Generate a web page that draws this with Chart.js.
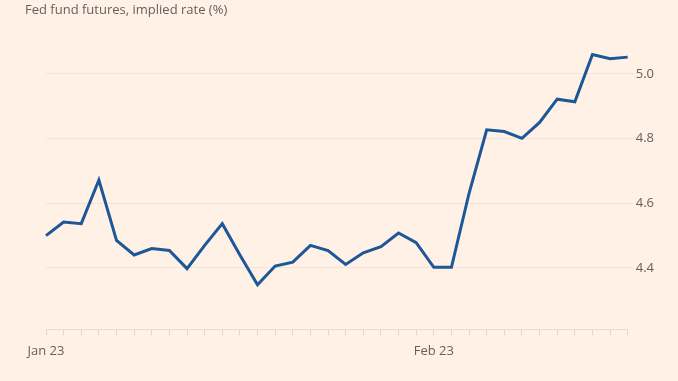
<!DOCTYPE html>
<html>
<head>
<meta charset="utf-8">
<script src="https://cdn.jsdelivr.net/npm/chart.js@4"></script>
<style>
  html, body { margin: 0; padding: 0; background: #fff1e5; }
  #wrap { width: 678px; height: 381px; position: relative; }
</style>
</head>
<body>
<div id="wrap"><canvas id="rateChart"></canvas></div>
<script>
// business days, Jan 23 to Mar 10
const dates = [
  "Jan 23", "Jan 24", "Jan 25", "Jan 26", "Jan 27", "Jan 30", "Jan 31",
  "Feb 1", "Feb 2", "Feb 3", "Feb 6", "Feb 7", "Feb 8", "Feb 9", "Feb 10",
  "Feb 13", "Feb 14", "Feb 15", "Feb 16", "Feb 17", "Feb 21", "Feb 22",
  "Feb 23", "Feb 24", "Feb 27", "Feb 28", "Mar 1", "Mar 2", "Mar 3",
  "Mar 6", "Mar 7", "Mar 8", "Mar 9", "Mar 10"
];
const impliedRate = [
  4.50, 4.542, 4.537, 4.672, 4.485, 4.44, 4.46, 4.454, 4.398, 4.47,
  4.537, 4.44, 4.348, 4.406, 4.418, 4.47, 4.454, 4.411, 4.447, 4.466,
  4.508, 4.478, 4.402, 4.402, 4.631, 4.827, 4.822, 4.801, 4.85, 4.922,
  4.914, 5.06, 5.047, 5.052
];
const xTickLabels = ["Jan 23", "Feb 23"];
const yTicks = [4.4, 4.6, 4.8, 5.0];

const textGrey = "#66605c";

const ctx = document.getElementById("rateChart").getContext("2d");
new Chart(ctx, {
  type: "line",
  data: {
    labels: dates,
    datasets: [{
      label: "Implied rate",
      data: impliedRate,
      xAxisID: "x",
      yAxisID: "y",
      borderColor: "#1c5797",
      borderWidth: 3,
      pointRadius: 0,
      tension: 0,
      fill: false,
    }],
  },
  options: {
    responsive: true,
    maintainAspectRatio: false,
    animation: false,
    layout: { padding: { left: 25, right: 22, top: 2, bottom: 14 } },
    plugins: {
      legend: { display: false },
      tooltip: { enabled: false },
      title: {
        display: true,
        text: "Fed fund futures, implied rate (%)",
        align: "start",
        color: textGrey,
        font: { family: "'Open Sans', sans-serif", size: 13, weight: "normal" },
        padding: { top: 0, bottom: 24 },
      },
    },
    scales: {
      x: {
        offset: false,
        grid: {
          drawOnChartArea: false,
          color: "#e3d8ce",
          tickLength: 6,
        },
        border: { color: "#e8ddd3", width: 1 },
        ticks: {
          autoSkip: false,
          maxRotation: 0,
          color: textGrey,
          padding: 8,
          font: { family: "'Open Sans', sans-serif", size: 13 },
          callback: function (value) {
            const lbl = this.getLabelForValue(value);
            return xTickLabels.includes(lbl) ? lbl : "";
          },
        },
      },
      // empty left axis, only used to push the plot right of the title
      spacer: {
        type: "linear",
        position: "left",
        grid: { display: false },
        border: { display: false },
        ticks: { display: false },
        afterFit: (axis) => { axis.width = 21; },
      },
      y: {
        type: "linear",
        position: "right",
        min: 4.21,
        max: 5.1,
        afterBuildTicks: (axis) => {
          axis.ticks = yTicks.map(v => ({ value: v }));
        },
        grid: { color: "#efe5dc", tickLength: 6 },
        border: { display: false },
        ticks: {
          color: textGrey,
          padding: 2,
          font: { family: "'Open Sans', sans-serif", size: 13 },
          callback: (v) => v.toFixed(1),
        },
      },
    },
  },
});
</script>
</body>
</html>
